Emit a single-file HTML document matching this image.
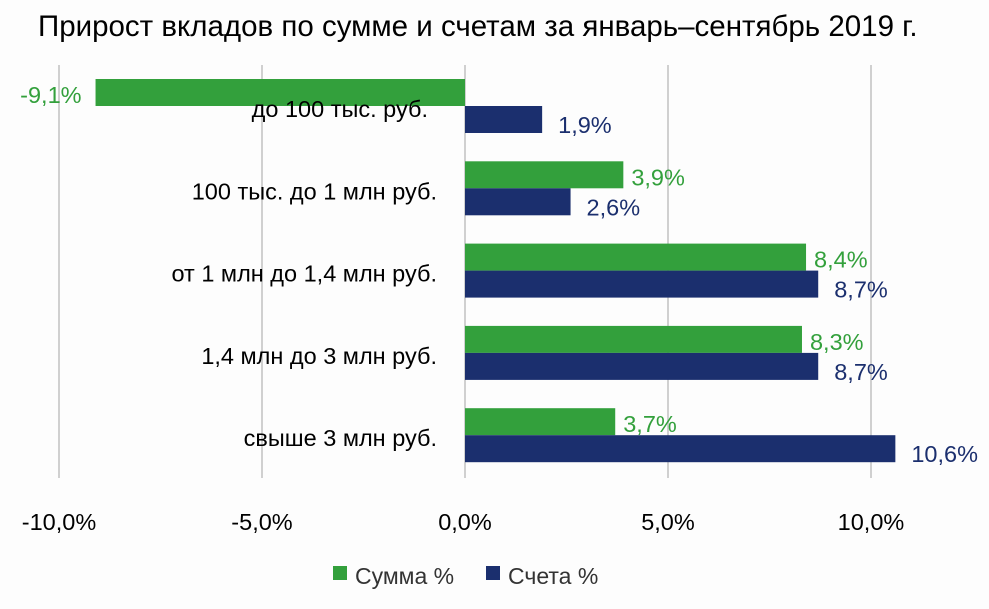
<!DOCTYPE html>
<html><head><meta charset="utf-8"><style>
body{margin:0;background:#fdfdfd;}
svg{display:block;font-family:"Liberation Sans",sans-serif;}
</style></head><body>
<svg id="c" width="989" height="609">
<rect width="989" height="609" fill="#fdfdfd"/>
<text x="38" y="36" font-size="29.5" fill="#000">Прирост вкладов по сумме и счетам за январь–сентябрь 2019 г.</text>
<g id="grid"></g><g id="bars"></g><g id="labels"></g><g id="ticks"></g>
<g>
<rect x="333" y="566" width="14" height="14" fill="#33a03c"/>
<text x="355" y="584" font-size="23" fill="#333">Сумма %</text>
<rect x="486" y="566" width="14" height="14" fill="#1b2f6e"/>
<text x="508" y="584" font-size="23" fill="#333">Счета %</text>
</g>
</svg>
<script>
const categories=["до 100 тыс. руб.","100 тыс. до 1 млн руб.","от 1 млн до 1,4 млн руб.","1,4 млн до 3 млн руб.","свыше 3 млн руб."];
const sumValues=[-9.1,3.9,8.4,8.3,3.7];
const accountValues=[1.9,2.6,8.7,8.7,10.6];
const tickValues=[-10,-5,0,5,10];
const tickLabels=["-10,0%","-5,0%","0,0%","5,0%","10,0%"];
const NS="http://www.w3.org/2000/svg";
const x=v=>465+v*40.6;
const rowY=i=>79+i*82.3;
function mk(t,a,p){const e=document.createElementNS(NS,t);for(const k in a)e.setAttribute(k,a[k]);document.getElementById(p).appendChild(e);return e;}
const fmt=v=>v.toFixed(1).replace('.',',')+'%';
tickValues.forEach((v,i)=>{
 const l=mk('line',{x1:x(v),x2:x(v),y1:65,y2:478,stroke:'#d0d0d0','stroke-width':2},'grid');
 
 
 const t=mk('text',{x:x(v),y:530,'font-size':23.5,'text-anchor':'middle',fill:'#000'},'ticks');
 t.textContent=tickLabels[i];
 
 
});
categories.forEach((c,i)=>{
 const y=rowY(i);
 const s=sumValues[i],a=accountValues[i];
 const g=mk('rect',{x:Math.min(x(0),x(s)),y:y,width:Math.abs(x(s)-x(0)),height:27,fill:'#33a03c'},'bars');
 
 
 const b=mk('rect',{x:Math.min(x(0),x(a)),y:y+27,width:Math.abs(x(a)-x(0)),height:27,fill:'#1b2f6e'},'bars');
 
 
 const sl=mk('text',{x:s<0?x(s)-14:x(s)+8,y:y+24,'font-size':23.5,fill:'#33a03c','text-anchor':s<0?'end':'start'},'labels');
 sl.textContent=fmt(s);
 
 
 const al=mk('text',{x:a<0?x(a)-8:x(a)+16,y:y+54,'font-size':23.5,fill:'#1b2f6e','text-anchor':a<0?'end':'start'},'labels');
 al.textContent=fmt(a);
 
 
 const cl=mk('text',{x:i==0?428:437,y:y+38,'font-size':23.5,fill:'#000','text-anchor':'end'},'labels');
 cl.textContent=c;
 
 
});
</script>
</body></html>
